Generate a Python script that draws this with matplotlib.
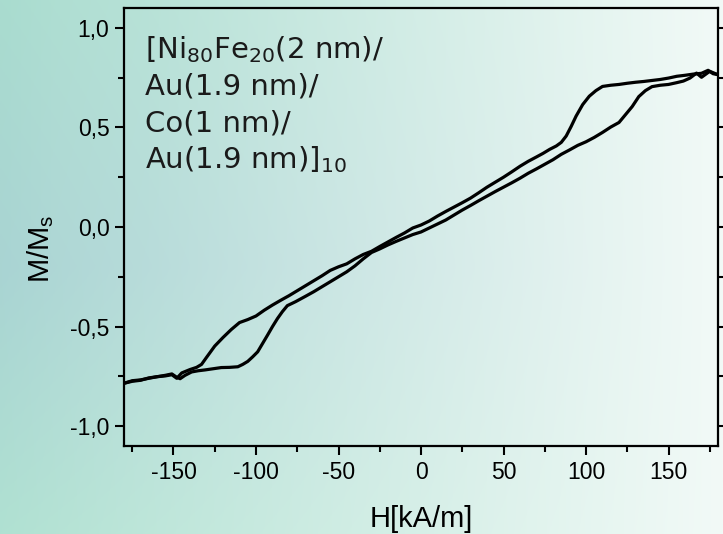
import numpy as np
import matplotlib
matplotlib.use('Agg')
import matplotlib.pyplot as plt
from matplotlib.ticker import MultipleLocator, FuncFormatter

# ================= 数据 =================
# 下降支 (从 +H 饱和 到 -H)
h_down = [180, 177, 174, 170, 165, 160, 155, 150, 145, 140, 135, 130, 125, 120, 115, 110,
          106, 102, 98, 94, 91, 88, 85, 82, 78, 74, 70, 65, 60, 55, 50, 45, 40, 35, 30,
          25, 20, 15, 10, 5, 0, -5, -10, -15, -20, -25, -30, -35, -40, -45, -50, -55,
          -60, -65, -70, -75, -80, -85, -90, -95, -100, -105, -110, -115, -120, -125,
          -130, -133, -136, -140, -145, -148, -151, -155, -160, -165, -170, -175, -180]
m_down = [0.765, 0.770, 0.787, 0.772, 0.768, 0.762, 0.757, 0.748, 0.741, 0.736, 0.731,
          0.727, 0.722, 0.716, 0.712, 0.706, 0.685, 0.657, 0.615, 0.557, 0.505, 0.457,
          0.425, 0.407, 0.390, 0.370, 0.352, 0.330, 0.305, 0.277, 0.250, 0.225, 0.200,
          0.172, 0.145, 0.122, 0.100, 0.078, 0.055, 0.030, 0.010, -0.005, -0.030,
          -0.052, -0.075, -0.098, -0.122, -0.138, -0.160, -0.185, -0.200, -0.218,
          -0.245, -0.270, -0.295, -0.320, -0.345, -0.368, -0.392, -0.418, -0.447,
          -0.465, -0.480, -0.515, -0.555, -0.598, -0.655, -0.690, -0.705, -0.716,
          -0.733, -0.760, -0.742, -0.748, -0.752, -0.760, -0.768, -0.772, -0.785]

# 上升支 (从 -H 饱和 到 +H)
h_up = [-180, -175, -170, -165, -160, -155, -151, -148, -146, -143, -139, -135, -131,
        -126, -121, -116, -111, -108, -105, -102, -99, -96, -93, -90, -87, -84, -81,
        -76, -70, -65, -60, -55, -50, -45, -40, -35, -30, -25, -20, -15, -10, -5, 0,
        5, 10, 15, 20, 25, 30, 35, 40, 45, 50, 55, 60, 65, 70, 75, 80, 85, 90, 95,
        100, 105, 110, 115, 120, 124, 128, 132, 136, 140, 145, 150, 155, 159, 163,
        167, 170, 175, 180]
m_up = [-0.785, -0.775, -0.770, -0.758, -0.752, -0.745, -0.738, -0.755, -0.762, -0.745,
        -0.728, -0.722, -0.718, -0.712, -0.706, -0.705, -0.702, -0.690, -0.675, -0.652,
        -0.627, -0.585, -0.543, -0.500, -0.460, -0.425, -0.395, -0.375, -0.348, -0.325,
        -0.300, -0.275, -0.250, -0.225, -0.195, -0.160, -0.128, -0.110, -0.090, -0.072,
        -0.055, -0.038, -0.025, -0.005, 0.015, 0.035, 0.060, 0.085, 0.108, 0.132,
        0.155, 0.178, 0.200, 0.222, 0.245, 0.270, 0.292, 0.315, 0.338, 0.365, 0.387,
        0.410, 0.428, 0.450, 0.475, 0.502, 0.525, 0.565, 0.605, 0.655, 0.685, 0.705,
        0.712, 0.716, 0.725, 0.733, 0.748, 0.773, 0.752, 0.782, 0.765]

x_ticks = [-150, -100, -50, 0, 50, 100, 150]
y_ticks = [-1.0, -0.5, 0.0, 0.5, 1.0]

sample_lines = ['[Ni$_{80}$Fe$_{20}$(2 nm)/', 'Au(1.9 nm)/', 'Co(1 nm)/', 'Au(1.9 nm)]$_{10}$']

# 背景渐变颜色 (左上, 左中, 左下, 右侧)
bg_left_top = '#a9dccf'
bg_left_mid = '#a9d4d3'
bg_left_bot = '#b0e1d2'
bg_right = '#f2faf7'

# ================= 绘图 =================
plt.rcParams['font.family'] = ['Liberation Sans', 'DejaVu Sans']
plt.rcParams['axes.unicode_minus'] = False  # 刻度用普通连字符

fig = plt.figure(figsize=(7.23, 5.34), dpi=100)

# 背景渐变
bg = fig.add_axes([0, 0, 1, 1], zorder=-1)
nx, ny = 300, 200
t = np.linspace(0, 1, nx)[None, :, None]
s = np.linspace(0, 1, ny)[:, None, None]
c_top = np.array(matplotlib.colors.to_rgb(bg_left_top))
c_mid = np.array(matplotlib.colors.to_rgb(bg_left_mid))
c_bot = np.array(matplotlib.colors.to_rgb(bg_left_bot))
c_r = np.array(matplotlib.colors.to_rgb(bg_right))
left_col = np.where(s < 0.5, c_top + (c_mid - c_top) * (s / 0.5), c_mid + (c_bot - c_mid) * ((s - 0.5) / 0.5))
img = left_col + (c_r - left_col) * t
bg.imshow(img, aspect='auto', extent=[0, 1, 0, 1], origin='upper')
bg.axis('off')

ax = fig.add_axes([124 / 723, 88 / 534, 594 / 723, 438 / 534])
ax.set_facecolor('none')

ax.plot(h_down, m_down, color='black', lw=2.3, solid_joinstyle='round')
ax.plot(h_up, m_up, color='black', lw=2.3, solid_joinstyle='round')

ax.set_xlim(-180, 180)
ax.set_ylim(-1.1, 1.1)
ax.set_xticks(x_ticks)
ax.set_yticks(y_ticks)
ax.xaxis.set_minor_locator(MultipleLocator(25))
ax.yaxis.set_minor_locator(MultipleLocator(0.25))
ax.yaxis.set_major_formatter(FuncFormatter(lambda v, p: f'{v:.1f}'.replace('.', ',')))

ax.tick_params(which='both', direction='out', width=1.5, labelsize=16.5, pad=4,
               top=False, right=True, labelright=False)
ax.tick_params(which='major', length=6.5)
ax.tick_params(which='minor', length=4)
for sp in ax.spines.values():
    sp.set_linewidth(1.6)

ax.set_xlabel('H[kA/m]', fontsize=21)
ax.set_ylabel('M/M$_\\mathregular{s}$', fontsize=21)
ax.xaxis.set_label_coords(0.5, -0.135)
ax.yaxis.set_label_coords(-0.115, 0.45)

# 样品结构文字
for i, line in enumerate(sample_lines):
    ax.text(145 / 723, (534 - 58.5 - 36.5 * i) / 534, line, transform=fig.transFigure,
            fontsize=21, family='DejaVu Sans', color='#1a1a1a', va='baseline', ha='left')

fig.savefig('out.png', dpi=100)
